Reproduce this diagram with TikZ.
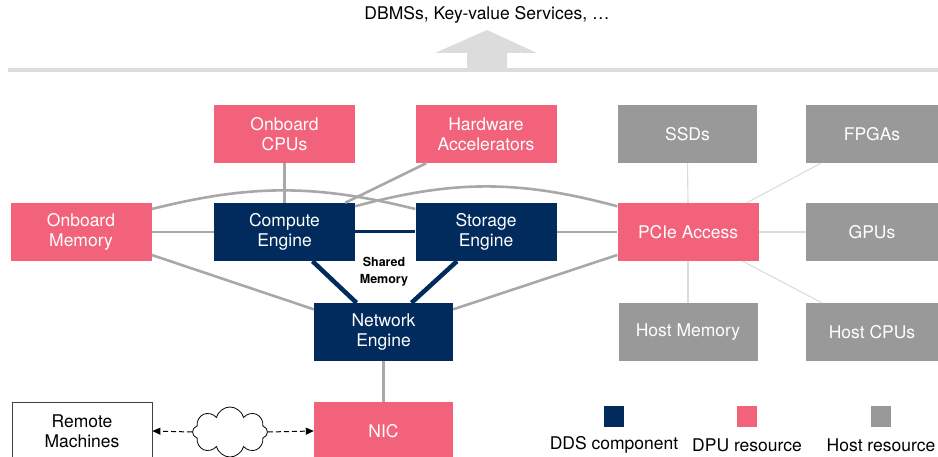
\documentclass[tikz,border=0pt]{standalone}
\usepackage{fontspec}
\setmainfont{TeX Gyre Heros}
\usetikzlibrary{arrows.meta,shapes.symbols}
\definecolor{ddsblue}{HTML}{002B5C}
\definecolor{dpupink}{HTML}{F2627A}
\definecolor{hostgray}{HTML}{999999}
\definecolor{linkgray}{HTML}{A8A8A8}
\definecolor{faintgray}{HTML}{DCDCDC}

\begin{document}
\begin{tikzpicture}[x=1pt,y=-1pt,
  lbl/.style={inner sep=0pt,align=center,font=\fontsize{17.5}{20}\selectfont},
  box/.style={lbl,minimum width=141pt,minimum height=58pt,text=white},
  dds/.style={box,fill=ddsblue},
  dpu/.style={box,fill=dpupink},
  host/.style={box,fill=hostgray},
  key/.style={minimum width=20pt,minimum height=21pt,inner sep=0pt},
  link/.style={linkgray,line width=2.6pt},
  hostlink/.style={faintgray,line width=1.1pt},
  ddslink/.style={ddsblue,line width=4.5pt},
  wan/.style={dash pattern=on 5pt off 3pt,line width=1pt,-{Triangle[length=8pt,width=7pt]}}]
\clip (0,0) rectangle (938,457);
% applications on top
\node[lbl] (apps) at (487,15) {DBMSs, Key-value Services, \dots};
\fill[faintgray] (487,30)--(537,53)--(507,53)--(507,69)--(467,69)--(467,53)--(435,53)--cycle;
\draw[faintgray,line width=4pt] (8,70)--(938,70);
% DPU
\node[dpu] (ocpu) at (284.5,134) {Onboard\\CPUs};
\node[dpu] (hwacc) at (486,134) {Hardware\\Accelerators};
\node[dpu] (omem) at (81,232) {Onboard\\Memory};
\node[dds] (comp) at (284.5,232) {Compute\\Engine};
\node[dds] (stor) at (486,232) {Storage\\Engine};
\node[dpu] (pcie) at (688,232) {PCIe Access};
\node[dds,minimum width=139pt] (net) at (383.5,332) {Network\\Engine};
\node[dpu,minimum width=139pt] (nic) at (383.5,431) {NIC};
% host
\node[host,minimum width=139pt] (ssd) at (687.5,134) {SSDs};
\node[host,minimum width=132pt] (fpga) at (872,134) {FPGAs};
\node[host,minimum width=132pt] (gpu) at (872,232) {GPUs};
\node[host,minimum width=139pt] (hmem) at (688,332) {Host Memory};
\node[host,minimum width=132pt] (hcpu) at (872,332) {Host CPUs};
% remote side
\node[lbl,draw=black!75,minimum width=140pt,minimum height=58pt,line width=0.8pt] (remote) at (82,431) {Remote\\Machines};
\node[cloud,draw,cloud puffs=8,aspect=1.5,minimum width=75pt,minimum height=50pt,inner sep=0pt,line width=0.8pt] (net0) at (230,432) {};
\draw[wan] (net0.west)--(remote.east);
\draw[wan] (net0.east)--(nic.west);
% links
\draw[link] (ocpu.south)--(comp.north);
\draw[link] ([xshift=11pt]hwacc.south west)--([xshift=-10pt]comp.north east);
\draw[link] (omem.east)--(comp.west);
\draw[link] (omem.18) to[bend left=14] (stor.162);
\draw[link] (comp.20) to[bend left=15] (pcie.160);
\draw[link] (stor.east)--(pcie.west);
\draw[link] (omem.-18)--(net.162);
\draw[link] (net.18)--(pcie.-162);
\draw[link] (net.south)--(nic.north);
\draw[ddsblue,line width=3pt] (comp.east)--(stor.west);
\draw[ddslink] ([xshift=28pt]comp.south)--([xshift=-27pt]net.north);
\draw[ddslink] ([xshift=-29pt]stor.south)--([xshift=28pt]net.north);
\node[inner sep=0pt,align=center,font=\fontsize{12.5}{17}\selectfont\bfseries] (shm) at (384,272) {Shared\\Memory};
\draw[hostlink] (pcie.north)--(ssd.south);
\draw[hostlink] ([xshift=-12pt]pcie.north east)--([xshift=15pt]fpga.south west);
\draw[hostlink] (pcie.east)--(gpu.west);
\draw[hostlink] ([xshift=-16pt]pcie.south east)--([xshift=16pt]hcpu.north west);
\draw[hostlink] (pcie.south)--(hmem.north);
% legend
\node[key,fill=ddsblue] (kdds) at (614,416.5) {};
\node[key,fill=dpupink] (kdpu) at (747,416.5) {};
\node[key,fill=hostgray] (khost) at (881,416.5) {};
\node[lbl] at (614,445) {DDS component};
\node[lbl] at (747,445) {DPU resource};
\node[lbl] at (881,445) {Host resource};
\end{tikzpicture}
\end{document}
